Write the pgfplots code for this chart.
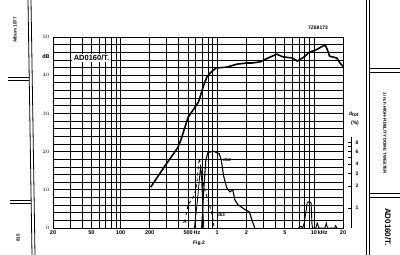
\documentclass[border=0pt]{standalone}
\usepackage{pgfplots}
\pgfplotsset{compat=1.18}
\usepackage{fontspec}
\setmainfont{Liberation Sans}
\begin{document}
\begin{tikzpicture}[x=1pt,y=1pt]
\useasboundingbox (0,0) rectangle (400,255);
% main frequency response axis
\begin{axis}[at={(53pt,27pt)}, anchor=south west, scale only axis,
  width=290pt, height=191pt,
  xmode=log, xmin=20, xmax=20000, ymin=0, ymax=50,
  xtick={20,50,100,200,500,1000,2000,5000,10000,20000},
  xticklabels={20,50,100,200,500\rlap{\,Hz},1,2,5,10\rlap{\,kHz},20},
  minor xtick={30,40,60,70,80,90,300,400,600,700,800,900,3000,4000,6000,7000,8000,9000},
  ytick={0,10,20,30,40,50},
  minor ytick={2,4,6,8,12,14,16,18,22,24,26,28,32,34,36,38,42,44,46,48},
  grid=both,
  major grid style={black, line width=0.8pt},
  minor grid style={black, line width=0.7pt},
  major tick length=0pt, minor tick length=0pt,
  axis line style={line width=1pt},
  tick label style={font=\bfseries\fontsize{5.5}{6}\selectfont},
  xticklabel style={yshift=1pt},
  clip=false,
]
\addplot[black, line width=1.6pt, line join=round] coordinates {
(205,10.7) (283,16) (390,21) (420,23) (500,29) (566,31) (640,33) (725,37.4)
(780,39.5) (862,40.8) (975,41.9) (1250,42.1) (1600,42.9) (2050,43.2)
(2300,43.2) (2780,43.5) (3350,44.5) (4140,45.5) (4770,44.8) (6010,44.5)
(6750,43.7) (7940,44.8) (8910,46) (10500,46.6) (11900,47.4) (13100,47.9)
(13800,46.6) (14500,45) (17250,44.5) (18600,43.2) (20000,42.3)};
\node[fill=white, inner sep=1.5pt, font=\bfseries\fontsize{7.5}{8}\selectfont] at (axis cs:50,44.5) {AD0160/T.};
\end{axis}
% distortion axis
\begin{axis}[at={(53pt,27pt)}, anchor=south west, scale only axis,
  width=290pt, height=191pt,
  xmode=log, ymode=log, xmin=20, xmax=20000, ymin=0.53, ymax=219,
  hide axis, clip=false]
\addplot[black, line width=1.1pt] coordinates {
(690,0.53) (725,1.76) (762,4.5) (800,5.7) (905,6.0) (1050,5.5) (1100,4.5)
(1160,2.8) (1250,1.9) (1350,1.66) (1450,1.76) (1520,1.29) (1640,1.1)
(1770,1.03) (1950,0.94) (2150,0.88) (2320,0.64) (2450,0.53)};
\addplot[black, line width=0.8pt] coordinates {
(580,0.53) (625,1.29) (656,2.6) (673,3.9) (690,2.4) (706,1.1) (725,0.53)};
\addplot[black, line width=0.8pt, dashed] coordinates {
(476,0.8) (500,1.1) (566,1.41) (610,1.88) (640,3.9) (656,4.8) (690,2.8)
(743,1.76) (800,1.29) (862,0.94) (905,0.68) (930,0.53)};
\addplot[black, line width=0.9pt] coordinates {
(6900,0.53) (7400,0.56) (7650,0.53) (7940,0.62) (8330,0.94) (8500,1.17)
(8900,1.22) (9360,1.17) (9540,0.6) (9700,0.53) (10500,0.53) (10800,0.62)
(11300,0.53) (13000,0.53) (13450,0.62) (13800,0.53) (16400,0.53)
(16800,0.57) (17300,0.53)};
\end{axis}
% distortion scale
\begin{axis}[at={(350pt,27pt)}, anchor=south west, scale only axis,
  width=1pt, height=91pt, xmin=0, xmax=1,
  ymode=log, ymin=0.53, ymax=9.5,
  axis x line=none, axis y line=right,
  y axis line style={line width=0.9pt, -},
  tick align=inside, major tick length=3pt,
  tick style={line width=0.8pt, black},
  ytick={1,2,3,4,5,6,7,8}, yticklabels={1,2,3,4,,6,,8},
  minor ytick={}, 
  tick label style={font=\bfseries\fontsize{5}{6}\selectfont},
  yticklabel style={xshift=1pt},
]
\end{axis}
% annotations
\node[font=\bfseries\fontsize{5.5}{6}\selectfont] at (46,198) {dB};
\node[font=\bfseries\fontsize{5}{6}\selectfont] at (354,141) {d\textsubscript{tot}};
\node[font=\bfseries\fontsize{5}{6}\selectfont] at (355,132) {(\%)};
\node[font=\bfseries\fontsize{4.5}{5}\selectfont] at (227,95) {dk2};
\node[font=\bfseries\fontsize{4.5}{5}\selectfont] at (221,40) {dk3};
\node[font=\bfseries\fontsize{5}{6}\selectfont] at (185,33) {A};
\node[font=\bfseries\fontsize{5}{6}\selectfont] at (318,227) {7Z68173};
\node[font=\bfseries\fontsize{5}{6}\selectfont] at (199,12) {Fig.2};
% page decorations
\draw[line width=0.8pt] (28,255) -- (32,0);
\draw[line width=0.8pt] (31,255) -- (35,0);
\draw[line width=0.8pt] (8,178) -- (29,178);
\draw[line width=0.8pt] (8,175) -- (29,175);
\draw[line width=0.8pt] (10,55) -- (31,55);
\draw[line width=0.8pt] (10,52) -- (31,52);
\node[rotate=90, font=\bfseries\fontsize{4.5}{5}\selectfont] at (15,225) {Album 1977};
\node[rotate=90, font=\bfseries\fontsize{4.5}{5}\selectfont] at (18,17) {815};
\draw[line width=0.8pt] (366,255) -- (366,0);
\draw[line width=0.8pt] (369,255) -- (369,0);
\draw[line width=0.8pt] (369,187) -- (400,187);
\draw[line width=0.8pt] (369,183) -- (400,183);
\draw[line width=0.8pt] (369,62) -- (400,62);
\draw[line width=0.8pt] (369,58) -- (400,58);
\node[rotate=-90, font=\bfseries\fontsize{4.3}{5}\selectfont] at (385,122) {1 inch HIGH-FIDELITY DOME TWEETER};
\node[rotate=-90, font=\bfseries\fontsize{8}{9}\selectfont] at (388,28) {AD0160/T.};
\end{tikzpicture}
\end{document}
